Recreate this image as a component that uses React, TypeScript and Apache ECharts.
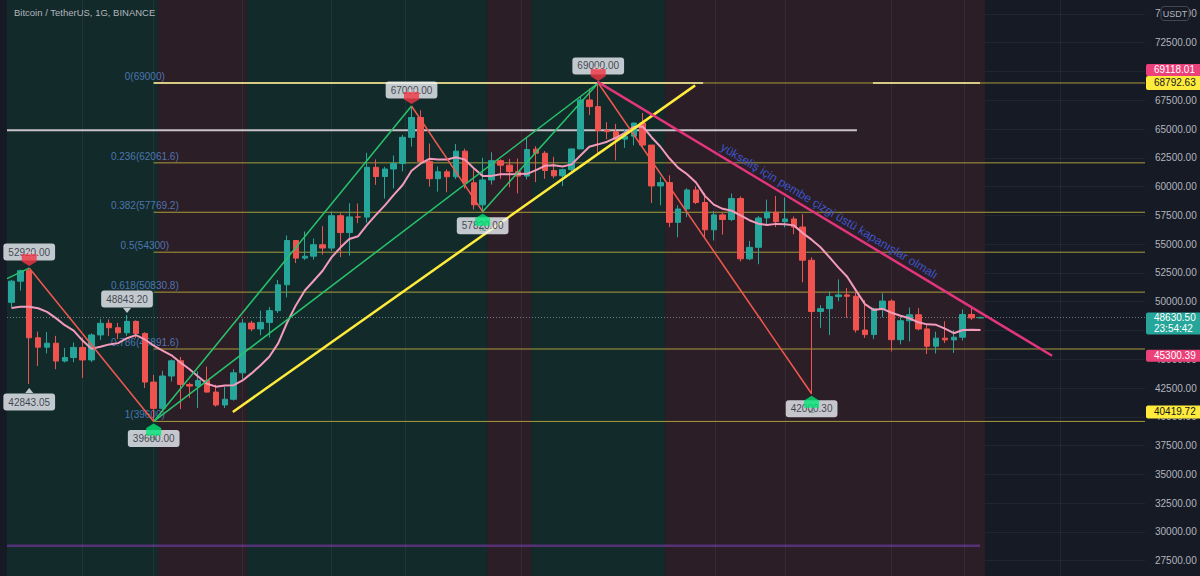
import React, { useEffect, useRef } from "react";
import * as echarts from "echarts";

const FONT = "'Liberation Sans', Arial, sans-serif";

// ---- categories (daily slots, Sep 5 2021 onward, incl. empty future slots)
const SLOT_COUNT = 128;
const categories: string[] = Array.from({ length: SLOT_COUNT }, (_, i) =>
  new Date(Date.UTC(2021, 8, 5 + i)).toISOString().slice(0, 10)
);

// ---- daily candles [open, close, low, high]
const candles: number[][] = [
  [49944, 51786, 49500, 51900], [51786, 52698, 50969, 52780], [52698, 46864, 42843.05, 52920],
  [46864, 46048, 44412, 47399], [46048, 46395, 45513, 47369], [46395, 44843, 44132, 47033],
  [44843, 45150, 44722, 45988], [45150, 46026, 44742, 46460], [46026, 44940, 43370, 46900],
  [44940, 47111, 44750, 47250], [47111, 48122, 46682, 48487], [48122, 47737, 47023, 48463],
  [47737, 47299, 46750, 48160], [47299, 48292, 47035, 48843.2], [48292, 47241, 46829, 48373],
  [47241, 43015, 42500, 47347], [43015, 40734, 39600, 43639], [40734, 43543, 40565, 44000],
  [43543, 44865, 43069, 44978], [44865, 42810, 40675, 45200], [42810, 42670, 41646, 42966],
  [42670, 43160, 40750, 43950], [43160, 42147, 42098, 44350], [42147, 41026, 40888, 42787],
  [41026, 41524, 40753, 42590], [41524, 43824, 41410, 44132], [43820, 48141, 43283, 48495],
  [48141, 47634, 47430, 48336], [47634, 48200, 47088, 49228], [48200, 49224, 46891, 49536],
  [49224, 51471, 49022, 51886], [51471, 55315, 50382, 55750], [55315, 53785, 53357, 55332],
  [53785, 53951, 53617, 56100], [53955, 54949, 53661, 55489], [54949, 54659, 54080, 56561],
  [54659, 57471, 54415, 57839], [57471, 56005, 53879, 57680], [56005, 57367, 54000, 58550],
  [57367, 57347, 56819, 58532], [57347, 61672, 56850, 62933], [61672, 60875, 60150, 62360],
  [60875, 61528, 58963, 61720], [61528, 62009, 59844, 62695], [62005, 64280, 61322, 64486],
  [64280, 66001, 63482, 67000], [66002, 62193, 62000, 66639], [62193, 60688, 60000, 63732],
  [60688, 61286, 59562, 61747], [61286, 60852, 59510, 61500], [60852, 63078, 60650, 63710],
  [63078, 60328, 59817, 63293], [60328, 58413, 58000, 61496], [58413, 60575, 57820, 62499],
  [60575, 62253, 60175, 62980], [62253, 61859, 60673, 62359], [61859, 61299, 59945, 62405],
  [61300, 60911, 59405, 62437], [60911, 63219, 60624, 64270], [63254, 62896, 60382, 63500],
  [62896, 61395, 60677, 63086], [61395, 60937, 60721, 62595], [60940, 61470, 60050, 61560],
  [61470, 63273, 61322, 63286], [63273, 67525, 63273, 67789], [67525, 66947, 66222, 68524],
  [66947, 64882, 62822, 69000], [64882, 64774, 64100, 65600], [64774, 64122, 62278, 65450],
  [64122, 64380, 63360, 65000], [64380, 65519, 63576, 65550], [65519, 63606, 63400, 66401],
  [63606, 60058, 58574, 63617], [60059, 60345, 58373, 60840], [60345, 56892, 56474, 60977],
  [56892, 58052, 55600, 58366], [58052, 59707, 57353, 59845], [59707, 58623, 58486, 60029],
  [58617, 56247, 55610, 59444], [56247, 57541, 55317, 57875], [57541, 57138, 55837, 57735],
  [57138, 58960, 57000, 59398], [58960, 53726, 53500, 59150], [53724, 54721, 53610, 55281],
  [54721, 57274, 53256, 57445], [57275, 57776, 56666, 58865], [57776, 56951, 56476, 59176],
  [56950, 57184, 56459, 59053], [57185, 56480, 55861, 57400], [56485, 53602, 51680, 57600],
  [53601, 49153, 42000.3, 53859], [49153, 49397, 47727, 49699], [49396, 50441, 47100, 50891],
  [50442, 50588, 50039, 51936], [50588, 50471, 48600, 51200], [50471, 47545, 47320, 50797],
  [47536, 47140, 46852, 50125], [47141, 49389, 46751, 49485], [49389, 50053, 48653, 50725],
  [50053, 46702, 45673, 50205], [46702, 48344, 46290, 48700], [48344, 48864, 46547, 49500],
  [48864, 47632, 47511, 49436], [47632, 46131, 45456, 47995], [46133, 46834, 45500, 47392],
  [46834, 46681, 46406, 48300], [46681, 46914, 45558, 47537], [46914, 48890, 46630, 49328],
  [48887, 48589, 48421, 49576], [48589, 48630.5, 48560, 48700],
];

// ---- pink moving-average line
const maLine: number[] = [
  49450, 49570, 49560, 49430, 49120, 48570, 47960, 47480, 46620, 45920,
  46080, 46290, 46400, 46830, 47100, 46720, 46190, 45750, 45340, 44720,
  44150, 43500, 42870, 42620, 42720, 42750, 43160, 43770, 44460, 45220,
  46380, 48170, 49700, 50970, 51820, 52690, 53850, 54700, 55440, 55690,
  56680, 57540, 58370, 59280, 60140, 61380, 61990, 62410, 62360, 62350,
  62550, 62340, 61600, 60930, 60930, 61080, 61080, 61090, 61110, 61430,
  61800, 61850, 61750, 61930, 62700, 63460, 63670, 63900, 64240, 64670,
  65180, 65220, 64290, 63460, 62460, 61620, 61070, 60350, 59190, 58430,
  58070, 57900, 57500, 57080, 56780, 56670, 56760, 56720, 56630, 55960,
  55390, 54730, 53870, 52980, 52170, 50960, 49790, 49270, 49380, 49040,
  48780, 48560, 48210, 48030, 47990, 47660, 47260, 47540, 47570, 47540,
];

// ---- fibonacci retracement levels
const fibLevels = [
  { label: "0(69000)", price: 69000 },
  { label: "0.236(62061.6)", price: 62061.6 },
  { label: "0.382(57769.2)", price: 57769.2 },
  { label: "0.5(54300)", price: 54300 },
  { label: "0.618(50830.8)", price: 50830.8 },
  { label: "0.786(45891.6)", price: 45891.6 },
  { label: "1(39600)", price: 39600 },
];
const fibStartIdx = 16;
const fibLabelIdx = 15;
const fibTopHighlights = [[16, 77.8], [96.9, 108.95]];

// ---- pivots (zigzag)
const pivots = [
  { idx: 2, price: 52920, text: "52920.00", side: "top", tag: "HH", dist: 7 },
  { idx: 2, price: 42843.05, text: "42843.05", side: "bottom", tag: "", dist: 9, pointer: true },
  { idx: 13, price: 48843.2, text: "48843.20", side: "top", tag: "", dist: 7, pointer: true },
  { idx: 16, price: 39600, text: "39600.00", side: "bottom", tag: "HL", dist: 8 },
  { idx: 45, price: 67000, text: "67000.00", side: "top", tag: "HH", dist: 7 },
  { idx: 53, price: 57820, text: "57820.00", side: "bottom", tag: "HL", dist: 5 },
  { idx: 66, price: 69000, text: "69000.00", side: "top", tag: "HH", dist: 8 },
  { idx: 90, price: 42000.3, text: "42000.30", side: "bottom", tag: "LL", dist: 6 },
];

// ---- drawn trend lines [idx, price]
const greenLines = [
  [[-0.5, 52000], [2, 52920]],
  [[16, 39600], [45, 67000]],
  [[16, 39600], [66, 69000]],
  [[53, 57820], [66, 69000]],
];
const redLines = [
  [[2, 52920], [16, 39600]],
  [[45, 67000], [53, 57820]],
  [[66, 69000], [90, 42000.3]],
];
const yellowLine = [[24.9, 40419.72], [76.9, 68792.63]];
const pinkLine = [[65.9, 69118.01], [117.05, 45300.39]];
const whiteLine = [[-0.5, 64900], [95.1, 64900]];
const purpleLine = [[-0.5, 28800], [108.95, 28800]];

// ---- background regimes
const GREEN_BG = "#132a2a";
const RED_BG = "#2b1e27";
const bands = [
  { from: -0.5, to: 16.5, color: GREEN_BG },
  { from: 16.5, to: 26.5, color: RED_BG },
  { from: 26.5, to: 53.5, color: GREEN_BG },
  { from: 53.5, to: 58.5, color: RED_BG },
  { from: 58.5, to: 73.5, color: GREEN_BG },
  { from: 73.5, to: 109.5, color: RED_BG },
];
const timeGrid = [8, 16, 26, 36, 44.3, 57.3, 79.2, 87, 99, 107.2, 118];

const lastPrice = 48630.5;
const countdown = "23:54:42";
const annotation = { text: "yükseliş için pembe çizgi üstü kapanışlar olmalı", idx: 92, price: 57880 };
const axisTags = [
  { price: 69118.01, text: "69118.01", bg: "#ec407a", fg: "#ffffff" },
  { price: 68792.63, text: "68792.63", bg: "#ffeb3b", fg: "#131722" },
  { price: 45300.39, text: "45300.39", bg: "#ec407a", fg: "#ffffff" },
  { price: 40419.72, text: "40419.72", bg: "#ffeb3b", fg: "#131722" },
];

const BOX_BG = "#eef1f7";

function lineSeries(data: number[][], color: string, width: number, z: number, opacity = 1) {
  return {
    type: "line", xAxisIndex: 1, yAxisIndex: 0, data, symbol: "none", silent: true, z,
    clip: true,
    lineStyle: { color, width, opacity },
  };
}

export default function App() {
  const ref = useRef<HTMLDivElement>(null);
  useEffect(() => {
    document.body.style.margin = "0";
    const chart = echarts.init(ref.current!, null, { renderer: "svg" });
    const series: any[] = [];

    // bands + time grid
    series.push({
      type: "line", xAxisIndex: 1, yAxisIndex: 0, data: [[0, 50000]], symbol: "none",
      lineStyle: { opacity: 0 }, silent: true, z: -5,
      markArea: {
        silent: true,
        data: bands.map((b) => [{ xAxis: b.from, itemStyle: { color: b.color } }, { xAxis: b.to }]),
      },
      markLine: {
        silent: true, symbol: "none", label: { show: false },
        lineStyle: { color: "rgba(255,255,255,0.05)", type: "solid", width: 1 },
        data: timeGrid.map((x) => ({ xAxis: x })),
      },
    });

    // fib lines
    fibLevels.forEach((f) => {
      series.push(lineSeries([[fibStartIdx, f.price], [SLOT_COUNT - 0.5, f.price]], "#a99c3a", 1, 2));
    });
    fibTopHighlights.forEach((seg) => {
      series.push(lineSeries([[seg[0], fibLevels[0].price], [seg[1], fibLevels[0].price]], "#d6cb82", 2, 2));
    });
    series.push({
      type: "scatter", xAxisIndex: 1, yAxisIndex: 0, symbolSize: 1, silent: true, z: 2,
      itemStyle: { color: "rgba(0,0,0,0)" },
      label: { show: true, position: "top", distance: 1, color: "#5b8bd3", fontSize: 10, fontFamily: FONT },
      data: fibLevels.map((f) => ({ value: [fibLabelIdx, f.price], label: { formatter: f.label } })),
    });

    series.push(lineSeries(whiteLine, "#c9c2c8", 2, 3));
    series.push(lineSeries(purpleLine, "#5c3380", 2.5, 3, 0.9));

    // price line
    series.push({
      type: "line", xAxisIndex: 1, yAxisIndex: 0, data: [[0, lastPrice]], symbol: "none",
      lineStyle: { opacity: 0 }, silent: true, z: 4,
      markLine: {
        silent: true, symbol: "none", label: { show: false },
        lineStyle: { color: "rgba(150,160,170,0.7)", type: [1, 2], width: 1 },
        data: [{ yAxis: lastPrice }],
      },
    });

    // candles
    series.push({
      type: "candlestick", xAxisIndex: 0, yAxisIndex: 0, data: candles, barWidth: 6, z: 5, silent: true,
      itemStyle: { color: "#26a69a", color0: "#ef5350", borderColor: "#26a69a", borderColor0: "#ef5350", borderWidth: 1 },
    });
    // moving average
    series.push({
      type: "line", xAxisIndex: 0, yAxisIndex: 0, data: maLine, symbol: "none", silent: true, z: 6,
      lineStyle: { color: "#f29bbb", width: 2 },
    });

    greenLines.forEach((l) => series.push(lineSeries(l, "#27c46c", 1.5, 7)));
    redLines.forEach((l) => series.push(lineSeries(l, "#f2584f", 1.5, 7)));
    series.push(lineSeries(yellowLine, "#ffeb3b", 2.5, 7));
    series.push(lineSeries(pinkLine, "#e2357c", 2.5, 7));

    // pivot price boxes
    series.push({
      type: "scatter", xAxisIndex: 1, yAxisIndex: 0, symbolSize: 1, silent: true, z: 8,
      itemStyle: { color: "rgba(0,0,0,0)" },
      data: pivots.map((p) => ({
        value: [p.idx, p.price],
        label: {
          show: true, position: p.side, distance: p.dist, formatter: p.text,
          backgroundColor: BOX_BG, color: "#1e222d", fontSize: 10, fontFamily: FONT,
          padding: [3, 5, 3, 5], borderRadius: 3, lineHeight: 11,
        },
      })),
    });
    // pointers on callout boxes
    series.push({
      type: "scatter", xAxisIndex: 1, yAxisIndex: 0, symbol: "triangle", symbolSize: [8, 5], silent: true, z: 8,
      itemStyle: { color: BOX_BG },
      data: pivots.filter((p) => p.pointer).map((p) => ({
        value: [p.idx, p.price],
        symbolRotate: p.side === "top" ? 180 : 0,
        symbolOffset: [0, p.side === "top" ? -4.5 : 6.5],
      })),
    });
    // zigzag markers
    series.push({
      type: "scatter", xAxisIndex: 1, yAxisIndex: 0, silent: true, z: 9,
      data: pivots.filter((p) => p.tag).map((p) => {
        const high = p.side === "top";
        return {
          value: [p.idx, p.price],
          symbol: high ? "path://M0,0L16,0L16,8L8,13L0,8Z" : "path://M8,0L16,5L16,13L0,13L0,5Z",
          symbolSize: [15, 12],
          symbolOffset: [0, high ? -8 : 8],
          itemStyle: { color: high ? "#f23645" : "#00e676" },
          label: {
            show: true, position: "inside", formatter: p.tag, fontSize: 5, color: high ? "#ffd0d0" : "#0b5e34",
            offset: [0, high ? -7 : 9],
          },
        };
      }),
    });

    const option: any = {
      animation: false,
      backgroundColor: "#161a25",
      textStyle: { fontFamily: FONT },
      grid: { left: 7, right: 55, top: -14.86, bottom: -13.47, containLabel: false, outerBoundsMode: "none" },
      xAxis: [
        { type: "category", data: categories, show: false, boundaryGap: true },
        { type: "value", min: -0.5, max: SLOT_COUNT - 0.5, show: false },
      ],
      yAxis: {
        type: "value", position: "right", min: 25000, max: 77500, interval: 2500,
        axisLine: { show: true, lineStyle: { color: "#2a2e39" } },
        axisTick: { show: false },
        axisLabel: {
          color: "#b2b5be", fontSize: 10, fontFamily: FONT, margin: 10,
          showMinLabel: false, showMaxLabel: false,
          formatter: (v: number) => v.toFixed(2),
        },
        splitLine: { lineStyle: { color: "rgba(255,255,255,0.05)", width: 1 } },
      },
      series,
    };
    chart.setOption(option);

    const py = (v: number) => chart.convertToPixel({ yAxisIndex: 0 }, v) as number;
    const pt = (i: number, v: number) => chart.convertToPixel({ xAxisIndex: 1, yAxisIndex: 0 }, [i, v]) as number[];
    const tagX = 1146;
    const graphics: any[] = [];
    const tagBox = (top: number, h: number, bg: string, fg: string, text: string) => [
      { type: "rect", z: 100, shape: { x: tagX, y: top, width: 60, height: h, r: 2 }, style: { fill: bg } },
      {
        type: "text", z: 101, x: 1154, y: top + h / 2,
        style: { text, fill: fg, fontSize: 10, fontFamily: FONT, verticalAlign: "middle", align: "left", lineHeight: 11 },
      },
    ];
    // yellow top tag & pink stacked above
    const yTop = py(axisTags[1].price) - 9.4;
    graphics.push(...tagBox(yTop, 14, axisTags[1].bg, axisTags[1].fg, axisTags[1].text));
    graphics.push(...tagBox(yTop - 12, 12, axisTags[0].bg, axisTags[0].fg, axisTags[0].text));
    graphics.push(...tagBox(py(axisTags[2].price) - 6, 12, axisTags[2].bg, axisTags[2].fg, axisTags[2].text));
    graphics.push(...tagBox(py(axisTags[3].price) - 6.5, 13, axisTags[3].bg, axisTags[3].fg, axisTags[3].text));
    graphics.push(...tagBox(py(lastPrice) - 5, 22, "#26a69a", "#ffffff", lastPrice.toFixed(2) + "\n" + countdown));

    // title
    graphics.push({
      type: "text", z: 100, x: 14, y: 12.7,
      style: { text: "Bitcoin / TetherUS, 1G, BINANCE", fill: "#b2b5be", fontSize: 9.5, fontFamily: FONT, verticalAlign: "middle" },
    });
    // currency box
    graphics.push({
      type: "rect", z: 100, shape: { x: 1161, y: 6.5, width: 28, height: 14, r: 3 },
      style: { fill: "#161a25", stroke: "#434651", lineWidth: 1 },
    });
    graphics.push({
      type: "text", z: 101, x: 1175, y: 13.7,
      style: { text: "USDT", fill: "#b2b5be", fontSize: 9, fontFamily: FONT, align: "center", verticalAlign: "middle" },
    });

    // annotation along the pink line
    const a = pt(pinkLine[0][0], pinkLine[0][1]);
    const b = pt(pinkLine[1][0], pinkLine[1][1]);
    const ang = Math.atan2(b[1] - a[1], b[0] - a[0]);
    const c = pt(annotation.idx, annotation.price);
    graphics.push({
      type: "text", z: 50, x: c[0], y: c[1], rotation: -ang,
      style: {
        text: annotation.text, fill: "#3d55cc", fontSize: 12, fontFamily: FONT,
        align: "center", verticalAlign: "middle",
      },
    });

    chart.setOption({ graphic: graphics });
    return () => chart.dispose();
  }, []);

  return <div ref={ref} style={{ position: "fixed", left: 0, top: 0, width: 1200, height: 576 }} />;
}
